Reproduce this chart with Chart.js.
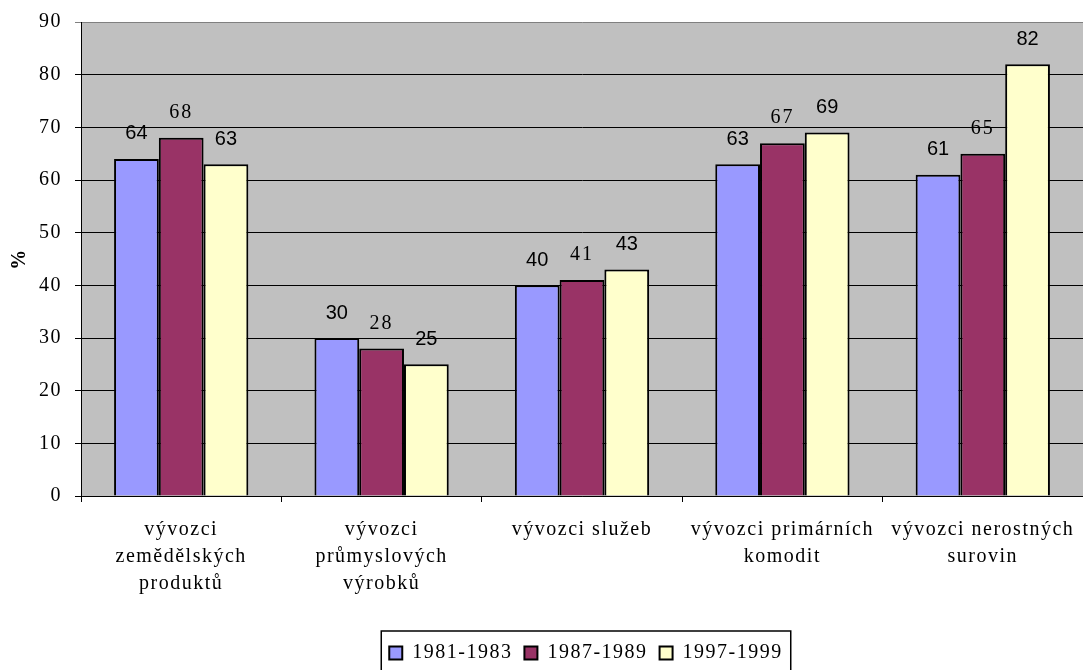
<!DOCTYPE html>
<html>
<head>
<meta charset="utf-8">
<script src="https://cdn.jsdelivr.net/npm/chart.js@4"></script>
<style>
  html, body { margin: 0; padding: 0; background: #fff; }
  #wrap { width: 1083px; height: 670px; }
</style>
</head>
<body>
<div id="wrap"><canvas id="myChart" width="1083" height="670"></canvas></div>
<script>
const categories = [
    ['vývozci', 'zemědělských', 'produktů'],
    ['vývozci', 'průmyslových', 'výrobků'],
    'vývozci služeb',
    ['vývozci primárních', 'komodit'],
    ['vývozci nerostných', 'surovin']
];
const seriesNames = ['1981-1983', '1987-1989', '1997-1999'];
const values1981 = [64, 30, 40, 63, 61];
const values1987 = [68, 28, 41, 67, 65];
const values1997 = [63, 25, 43, 69, 82];
const barColors = ['#9999FF', '#993366', '#FFFFCC'];

const serif = "'Liberation Serif', 'Times New Roman', serif";
const sans = "'Liberation Sans', Arial, sans-serif";

const spaced = chart => { chart.ctx.letterSpacing = '1.5px'; };

// gray plot background + spaced serif text like the original
const backdrop = {
    id: 'backdrop',
    beforeUpdate: spaced,
    beforeLayout: spaced,
    afterLayout(chart) {
        // legend sits centred under the plot, not the whole canvas
        const lg = chart.legend;
        lg.left = chart.chartArea.left + 8;
        lg.right = chart.chartArea.right;
        lg.top += 3;
        lg.bottom += 3;
    },
    beforeDraw(chart) {
        const { ctx, chartArea: a } = chart;
        ctx.save();
        ctx.fillStyle = '#C0C0C0';
        ctx.fillRect(a.left, a.top, a.right - a.left, a.bottom - a.top);
        ctx.restore();
        spaced(chart);
    }
};

const barLabels = {
    id: 'barLabels',
    afterDatasetsDraw(chart) {
        const ctx = chart.ctx;
        ctx.save();
        ctx.textAlign = 'center';
        ctx.textBaseline = 'middle';
        ctx.fillStyle = '#000';
        chart.data.datasets.forEach((ds, i) => {
            const meta = chart.getDatasetMeta(i);
            if (i === 1) {
                ctx.font = '20px ' + serif;
                ctx.letterSpacing = '2px';
            } else {
                ctx.font = '20px ' + sans;
                ctx.letterSpacing = '0px';
            }
            meta.data.forEach((bar, j) => {
                ctx.fillText(String(ds.data[j]), bar.x, bar.y - 25);
            });
        });
        ctx.restore();
    },
    afterDraw(chart) {
        // frame round the legend
        const boxes = chart.legend.legendHitBoxes;
        if (!boxes || !boxes.length) return;
        const first = boxes[0], last = boxes[boxes.length - 1];
        const ctx = chart.ctx;
        ctx.save();
        ctx.strokeStyle = '#000';
        ctx.lineWidth = 1.5;
        ctx.strokeRect(first.left - 8, first.top - 12, last.left + last.width - first.left + 16, 60);
        ctx.restore();
    }
};

new Chart('myChart', {
    type: 'bar',
    data: {
        labels: categories,
        datasets: [
            { label: seriesNames[0], data: values1981, backgroundColor: barColors[0] },
            { label: seriesNames[1], data: values1987, backgroundColor: barColors[1] },
            { label: seriesNames[2], data: values1997, backgroundColor: barColors[2] }
        ].map(d => Object.assign(d, { borderColor: '#000', borderWidth: 2 }))
    },
    options: {
        responsive: false,
        animation: false,
        categoryPercentage: 0.67,
        barPercentage: 1.0,
        layout: { padding: { top: 22, right: 0, left: 0, bottom: 0 } },
        plugins: {
            legend: {
                position: 'bottom',
                labels: {
                    boxWidth: 13,
                    boxHeight: 13,
                    padding: 12,
                    color: '#000',
                    font: { family: serif, size: 20 }
                }
            },
            tooltip: { enabled: false }
        },
        scales: {
            x: {
                grid: { drawOnChartArea: false, drawTicks: true, tickLength: 6, color: '#000' },
                border: { color: '#000', width: 1 },
                ticks: {
                    color: '#000',
                    padding: 14,
                    maxRotation: 0,
                    autoSkip: false,
                    font: { family: serif, size: 20, lineHeight: 1.35 }
                },
                afterFit(scale) {
                    scale.height = 132;
                    scale.paddingLeft = 0;
                    scale.paddingRight = 0;
                }
            },
            y: {
                min: 0,
                max: 90,
                ticks: {
                    stepSize: 10,
                    color: '#000',
                    padding: 13,
                    font: { family: serif, size: 20 }
                },
                grid: {
                    color: c => (c.tick && c.tick.value === 90) ? '#808080' : '#000',
                    tickLength: 6,
                    lineWidth: 1
                },
                border: { color: '#000', width: 1 },
                title: {
                    display: true,
                    text: '%',
                    color: '#000',
                    padding: { top: 8, bottom: 0 },
                    font: { family: serif, size: 20, weight: 'bold' }
                },
                afterFit(scale) {
                    scale.width = 81;
                    scale.paddingTop = 0;
                    scale.paddingBottom = 0;
                }
            }
        }
    },
    plugins: [backdrop, barLabels]
});
</script>
</body>
</html>
